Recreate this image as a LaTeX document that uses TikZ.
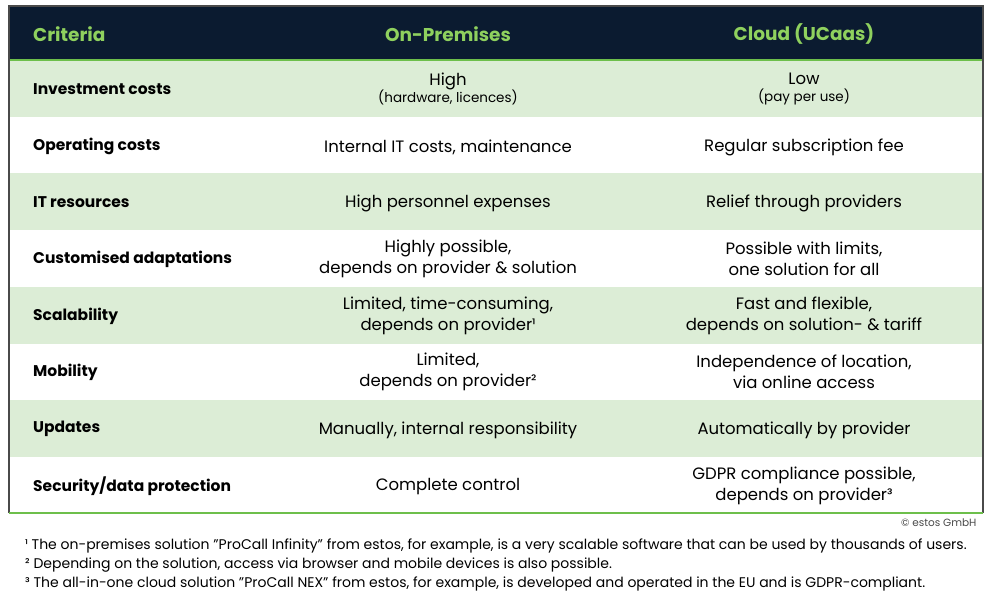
\documentclass[tikz,border=0pt]{standalone}
\usepackage{fontspec}
\setmainfont{Poppins}
\definecolor{navy}{HTML}{0B1B30}
\definecolor{lime}{HTML}{8FD15E}
\definecolor{rowg}{HTML}{DCEDD6}
\definecolor{bord}{HTML}{4A4A4A}
\definecolor{gline}{HTML}{6DBF4B}
\begin{document}
\begin{tikzpicture}[x=1pt,y=-1pt,
 hd/.style={font=\fontsize{18.5}{20}\selectfont\bfseries,text=lime},
 crit/.style={anchor=west,inner sep=0pt,font=\fontsize{15.5}{18}\selectfont\bfseries},
 cell/.style={align=center,font=\fontsize{16.5}{21}\selectfont},
 fn/.style={anchor=west,inner sep=0pt,font=\fontsize{14}{16}\selectfont}]
\useasboundingbox (0,0) rectangle (993,598);
\fill[white] (0,0) rectangle (993,598);
\fill[navy] (9,6) rectangle (983,60);
\foreach \t in {60,173,287,400}{\fill[rowg] (9,\t) rectangle (983,\t+57);}
\draw[gline,line width=1.2pt] (9,60) -- (983,60);
\draw[bord,line width=1.2pt] (9,513) -- (9,6) -- (983,6) -- (983,513);
\draw[gline,line width=1.2pt] (9,513) -- (983,513);
\node[hd,anchor=west,inner sep=0pt] (h1) at (33,34) {Criteria};
\node[hd] (h2) at (448,34) {On-Premises};
\node[hd] (h3) at (804,34) {Cloud (UCaas)};
\node[crit] (c1) at (33,89) {Investment costs};
\node[crit] (c2) at (33,146) {Operating costs};
\node[crit] (c3) at (33,202) {IT resources};
\node[crit] (c4) at (33,259) {Customised adaptations};
\node[crit] (c5) at (33,316) {Scalability};
\node[crit] (c6) at (33,372) {Mobility};
\node[crit] (c7) at (33,429) {Updates};
\node[crit] (c8) at (33,486) {Security/data protection};
\node[cell] (a1) at (448,89) {High\\[-4pt]{\fontsize{13.5}{15}\selectfont(hardware, licences)}};
\node[cell] (b1) at (804,89) {Low\\[-4pt]{\fontsize{13.5}{15}\selectfont(pay per use)}};
\node[cell] (a2) at (448,147) {Internal IT costs, maintenance};
\node[cell] (b2) at (804,147) {Regular subscription fee};
\node[cell] (a3) at (448,203) {High personnel expenses};
\node[cell] (b3) at (804,203) {Relief through providers};
\node[cell] (a4) at (448,259) {Highly possible,\\depends on provider \& solution};
\node[cell] (b4) at (804,259) {Possible with limits,\\one solution for all};
\node[cell] (a5) at (448,316) {Limited, time-consuming,\\depends on provider¹};
\node[cell] (b5) at (804,316) {Fast and flexible,\\depends on solution- \& tariff};
\node[cell] (a6) at (448,372) {Limited,\\depends on provider²};
\node[cell] (b6) at (804,372) {Independence of location,\\via online access};
\node[cell] (a7) at (448,430) {Manually, internal responsibility};
\node[cell] (b7) at (804,430) {Automatically by provider};
\node[cell] (a8) at (448,487) {Complete control};
\node[cell] (b8) at (804,486) {GDPR compliance possible,\\depends on provider³};
\node[anchor=east,font=\fontsize{10.5}{12}\selectfont,text=bord] (cp) at (980,523) {© estos GmbH};
\node[fn] (f1) at (25,546) {¹ The on-premises solution "ProCall Infinity" from estos, for example, is a very scalable software that can be used by thousands of users.};
\node[fn] (f2) at (25,565) {² Depending on the solution, access via browser and mobile devices is also possible.};
\node[fn] (f3) at (25,584) {³ The all-in-one cloud solution "ProCall NEX" from estos, for example, is developed and operated in the EU and is GDPR-compliant.};
\end{tikzpicture}
\end{document}
